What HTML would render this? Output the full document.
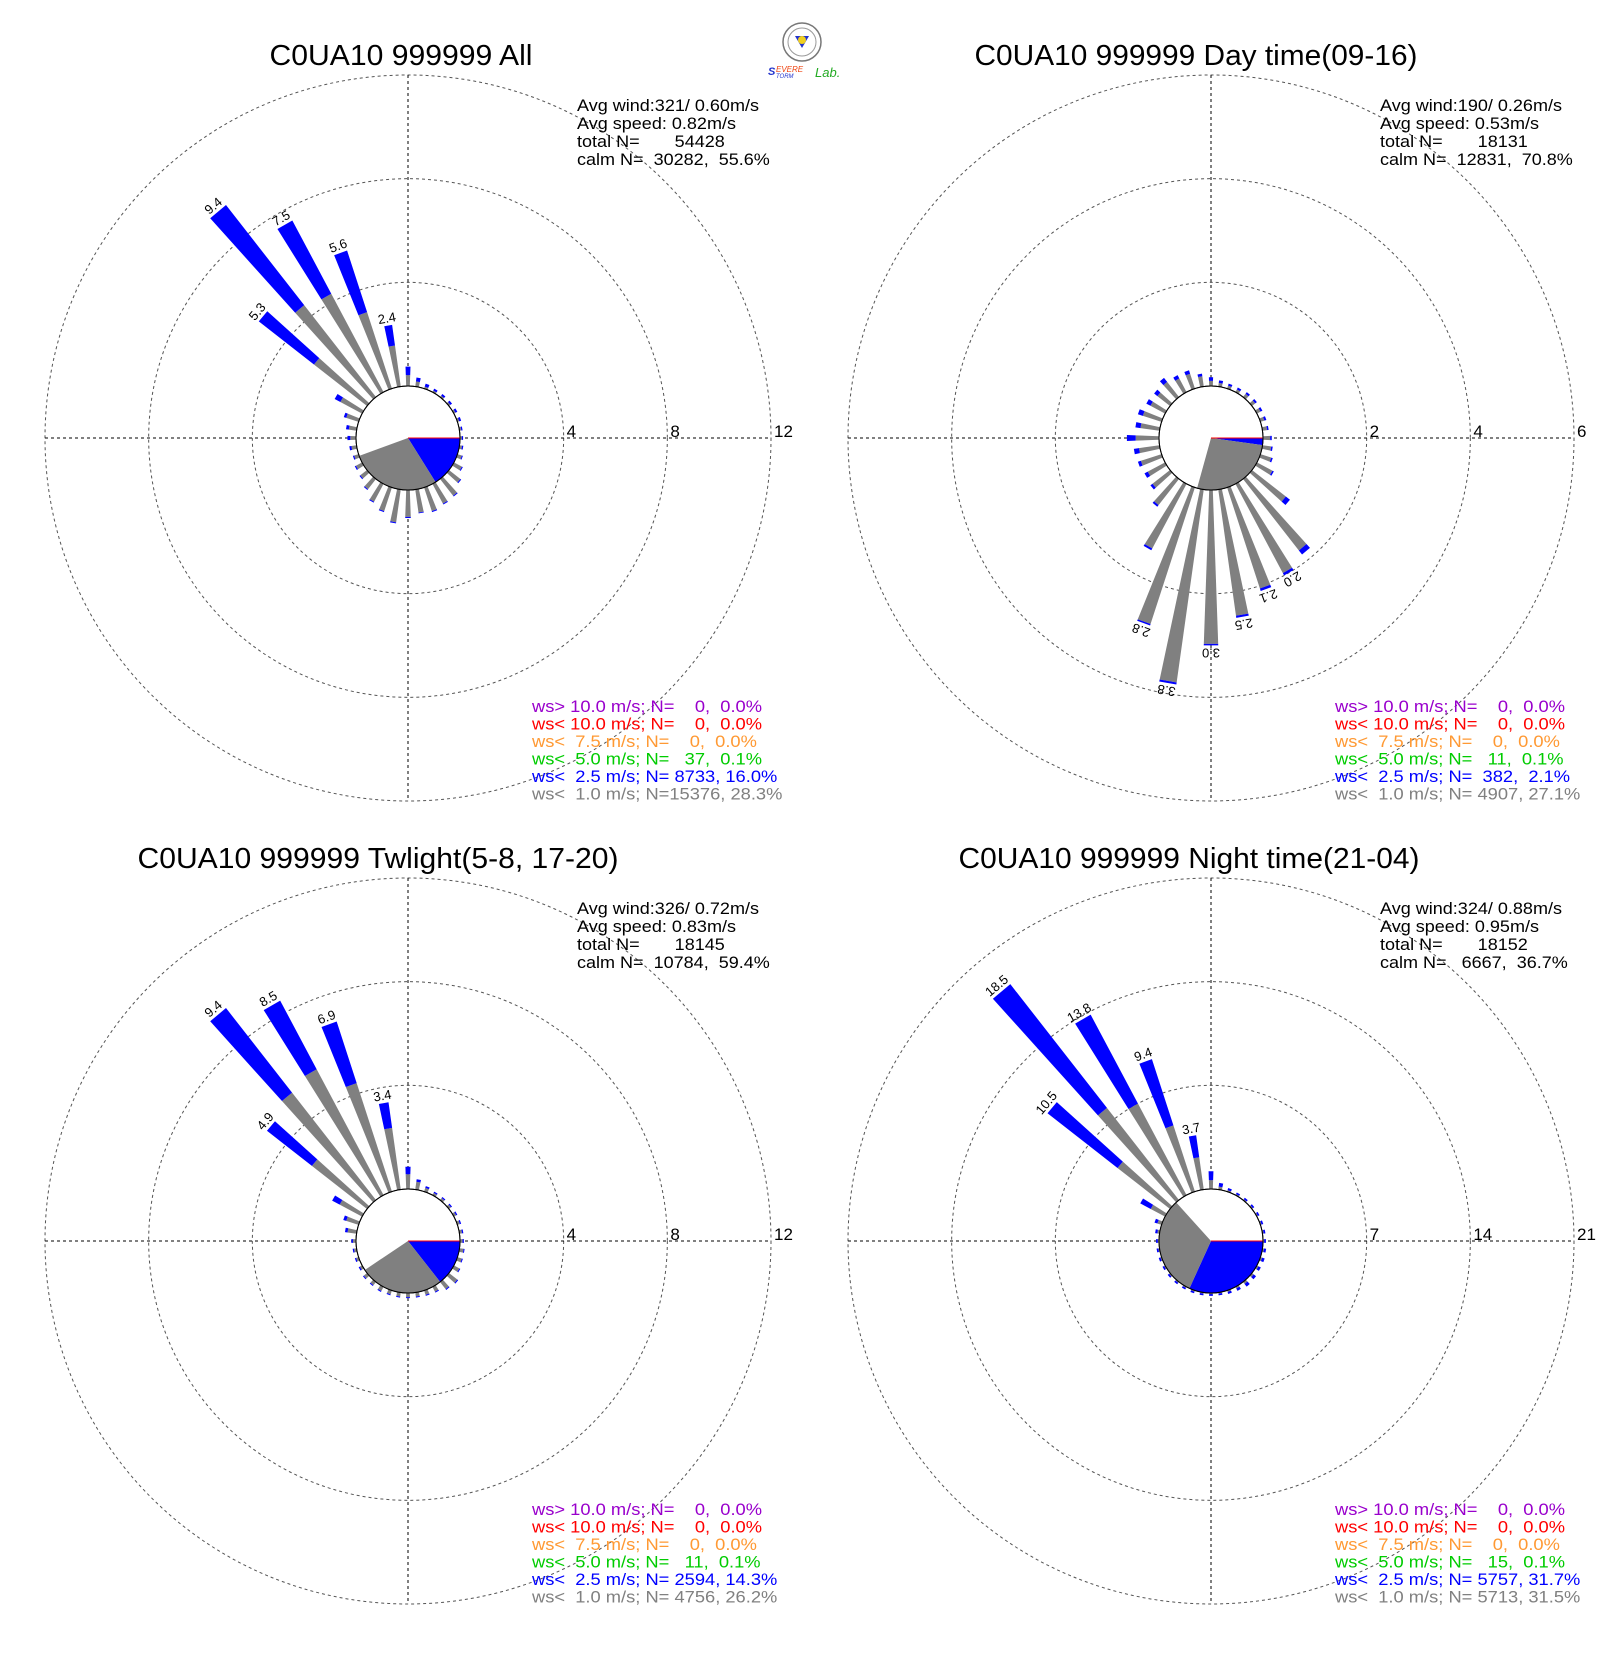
<!DOCTYPE html>
<html><head><meta charset="utf-8">
<style>
html,body{margin:0;padding:0;background:#fff;}
svg{display:block;}
text{font-family:"Liberation Sans",Arial,sans-serif;white-space:pre;}
</style></head>
<body>
<svg id="chart" width="1620" height="1660" viewBox="0 0 1620 1660" xmlns="http://www.w3.org/2000/svg" xml:space="preserve">
<g id="logo">
  <circle cx="802" cy="42" r="19" fill="#fff" stroke="#777" stroke-width="1.5"/>
  <circle cx="802" cy="42" r="14" fill="none" stroke="#999" stroke-width="1"/>
  <polygon points="795,36 809,36 802,48" fill="#2233cc"/>
  <circle cx="802" cy="40" r="4" fill="#f0d020"/>
  <text x="768" y="75" font-size="11" fill="#2233cc" font-style="italic" font-weight="bold">S</text>
  <text x="776" y="72" font-size="8" fill="#ee4411" font-style="italic">EVERE</text>
  <text x="776" y="78" font-size="6" fill="#2233cc" font-style="italic">TORM</text>
  <text x="815" y="77" font-size="13" fill="#22aa22" font-style="italic">Lab.</text>
</g>
</svg>
<script>
// ---- data ----
const directions = [0,10,20,30,40,50,60,70,80,90,100,110,120,130,140,150,160,170,180,190,200,210,220,230,240,250,260,270,280,290,300,310,320,330,340,350];

const allTotal = [0.75,0.35,0.2,0.15,0.15,0.15,0.15,0.15,0.12,0.12,0.15,0.22,0.39,0.6,0.86,0.9,1.0,0.93,1.08,1.32,1.0,0.82,0.54,0.37,0.32,0.23,0.28,0.33,0.41,0.6,1.2,5.3,9.4,7.5,5.6,2.4];
const allCalmWs = [0.42,0.2,0.08,0.07,0.07,0.07,0.07,0.07,0.07,0.07,0.1,0.18,0.35,0.56,0.82,0.86,0.96,0.9,1.04,1.28,0.96,0.78,0.5,0.33,0.27,0.18,0.2,0.22,0.3,0.5,0.95,2.6,4.5,4.3,3.1,1.6];

const dayTotal = [0.17,0.12,0.1,0.1,0.12,0.12,0.12,0.12,0.12,0.17,0.2,0.25,0.37,0.93,1.85,2.0,2.1,2.5,3.0,3.8,2.8,1.45,0.68,0.48,0.45,0.48,0.5,0.62,0.47,0.48,0.41,0.39,0.47,0.37,0.37,0.25];
const dayCalmWs = [0.1,0.07,0.06,0.06,0.08,0.08,0.08,0.08,0.09,0.14,0.17,0.22,0.34,0.83,1.75,1.95,2.05,2.46,2.97,3.76,2.77,1.41,0.64,0.43,0.38,0.42,0.4,0.45,0.37,0.38,0.32,0.31,0.37,0.3,0.3,0.2];

const twTotal = [0.86,0.4,0.22,0.15,0.15,0.15,0.15,0.15,0.15,0.15,0.2,0.22,0.28,0.45,0.39,0.25,0.22,0.2,0.2,0.2,0.2,0.22,0.2,0.2,0.15,0.15,0.15,0.18,0.45,0.62,1.31,4.9,9.4,8.5,6.9,3.4];
const twCalmWs = [0.57,0.3,0.15,0.1,0.1,0.1,0.1,0.1,0.1,0.1,0.16,0.18,0.24,0.41,0.35,0.21,0.18,0.16,0.16,0.16,0.16,0.18,0.16,0.16,0.1,0.1,0.1,0.12,0.35,0.5,0.98,2.7,5.26,5.5,4.4,2.4];

const nightTotal = [1.2,0.45,0.25,0.2,0.2,0.2,0.2,0.2,0.2,0.2,0.25,0.3,0.3,0.35,0.4,0.3,0.25,0.2,0.2,0.2,0.2,0.2,0.2,0.2,0.2,0.2,0.2,0.2,0.3,0.5,1.9,10.5,18.5,13.8,9.4,3.7];
const nightCalmWs = [0.6,0.2,0.1,0.08,0.08,0.08,0.08,0.08,0.08,0.08,0.1,0.12,0.12,0.15,0.17,0.12,0.1,0.08,0.08,0.08,0.08,0.08,0.08,0.08,0.08,0.08,0.08,0.08,0.15,0.3,1.1,4.5,7.9,7.0,4.7,2.2];

const ringTicks = [[4,8,12],[2,4,6],[4,8,12],[7,14,21]];
const labelMin = [2.0, 1.95, 3.0, 3.5];
const titles = ["C0UA10 999999 All","C0UA10 999999 Day time(09-16)","C0UA10 999999 Twlight(5-8, 17-20)","C0UA10 999999 Night time(21-04)"];
const avgWind = ["321/ 0.60m/s","190/ 0.26m/s","326/ 0.72m/s","324/ 0.88m/s"];
const avgSpeed = ["0.82m/s","0.53m/s","0.83m/s","0.95m/s"];
const totalN = ["54428","18131","18145","18152"];
const calmN = ["30282,  55.6%","12831,  70.8%","10784,  59.4%"," 6667,  36.7%"];
const bluePct = [16.0, 2.1, 14.3, 31.7];
const grayPct = [28.3, 27.1, 26.2, 31.5];
const greenPct = [0.1, 0.1, 0.1, 0.1];
const legendN = [
  ["    0,  0.0%","    0,  0.0%","    0,  0.0%","   37,  0.1%"," 8733, 16.0%","15376, 28.3%"],
  ["    0,  0.0%","    0,  0.0%","    0,  0.0%","   11,  0.1%","  382,  2.1%"," 4907, 27.1%"],
  ["    0,  0.0%","    0,  0.0%","    0,  0.0%","   11,  0.1%"," 2594, 14.3%"," 4756, 26.2%"],
  ["    0,  0.0%","    0,  0.0%","    0,  0.0%","   15,  0.1%"," 5757, 31.7%"," 5713, 31.5%"]
];
const legendPrefix = ["ws> 10.0 m/s; N=","ws< 10.0 m/s; N=","ws<  7.5 m/s; N=","ws<  5.0 m/s; N=","ws<  2.5 m/s; N=","ws<  1.0 m/s; N="];
const legendColors = ["#9900cc","#ff0000","#ff9933","#00cc00","#0000ff","#808080"];

const totals = [allTotal, dayTotal, twTotal, nightTotal];
const grays = [allCalmWs, dayCalmWs, twCalmWs, nightCalmWs];

// ---- layout ----
const NS = "http://www.w3.org/2000/svg";
const svg = document.getElementById('chart');
const centers = [[408,438],[1211,438],[408,1241],[1211,1241]];
const R0 = 52, RMAX = 363, HALF = 2.0;
const panelNames = ['all','day-time','twilight','night-time'];

function mk(tag, attrs, parent){
  const e = document.createElementNS(NS, tag);
  for (const k in attrs) e.setAttribute(k, attrs[k]);
  (parent||svg).appendChild(e);
  return e;
}
function pt(cx, cy, r, deg){ const a = deg*Math.PI/180; return [cx + r*Math.sin(a), cy - r*Math.cos(a)]; }
function wedge(cx, cy, r1, r2, deg){
  const a = pt(cx,cy,r1,deg-HALF), b = pt(cx,cy,r2,deg-HALF), c = pt(cx,cy,r2,deg+HALF), d = pt(cx,cy,r1,deg+HALF);
  return [a,b,c,d].map(p=>p[0].toFixed(2)+','+p[1].toFixed(2)).join(' ');
}
function pieSlice(cx, cy, r, a0, a1){
  const p0 = [cx + r*Math.cos(a0*Math.PI/180), cy + r*Math.sin(a0*Math.PI/180)];
  const p1 = [cx + r*Math.cos(a1*Math.PI/180), cy + r*Math.sin(a1*Math.PI/180)];
  const large = (a1-a0) > 180 ? 1 : 0;
  return `M${cx},${cy} L${p0[0]},${p0[1]} A${r},${r} 0 ${large} 1 ${p1[0]},${p1[1]} Z`;
}
function stretchBlock(list, targetFirst){
  const f = targetFirst / list[0].getComputedTextLength();
  list.forEach(t => {
    const w = t.getComputedTextLength();
    t.setAttribute('textLength', (w*f).toFixed(1));
    t.setAttribute('lengthAdjust', 'spacingAndGlyphs');
  });
}

for (let p = 0; p < 4; p++){
  const [cx, cy] = centers[p];
  const vmax = ringTicks[p][ringTicks[p].length-1];
  const scale = v => R0 + (RMAX - R0) * v / vmax;
  const g = mk('g', {});
  
  

  ringTicks[p].forEach(t => {
    const ring = mk('circle', {cx, cy, r: scale(t), fill:'none', stroke:'#555', 'stroke-width':1, 'stroke-dasharray':'3,3'}, g);
    
    
    const lab = mk('text', {x: cx + scale(t) + 3, y: cy - 1, 'font-size': 17, fill:'#000'}, g);
    lab.textContent = String(t);
    
    
  });
  const ax1 = mk('line', {x1: cx-RMAX, y1: cy, x2: cx+RMAX, y2: cy, stroke:'#000', 'stroke-width':1, 'stroke-dasharray':'3,3'}, g);
  
  
  const ax2 = mk('line', {x1: cx, y1: cy-RMAX, x2: cx, y2: cy+RMAX, stroke:'#000', 'stroke-width':1, 'stroke-dasharray':'3,3'}, g);
  
  

  directions.forEach((d, i) => {
    const tot = totals[p][i], gr = Math.min(grays[p][i], tot);
    const gBar = mk('polygon', {points: wedge(cx, cy, R0, scale(gr), d), fill:'#808080'}, g);
    
    
    const bBar = mk('polygon', {points: wedge(cx, cy, scale(gr), scale(tot), d), fill:'#0000ff'}, g);
    
    
    if (tot >= labelMin[p]){
      const tp = pt(cx, cy, scale(tot) + 3, d);
      const lt = mk('text', {x: 0, y: 0, 'font-size': 13, 'text-anchor':'middle', fill:'#000',
        transform: `translate(${tp[0].toFixed(1)},${tp[1].toFixed(1)}) rotate(${d})`}, g);
      lt.textContent = tot.toFixed(1);
      
      
    }
  });

  const cc = mk('circle', {cx, cy, r: R0, fill:'#fff', stroke:'#000', 'stroke-width':1}, g);
  
  
  let a = 0;
  const gA = greenPct[p]*3.6;
  const gs = mk('path', {d: pieSlice(cx, cy, R0, a, a+gA), fill:'#00cc00'}, g);
  
  
  a += gA;
  const bA = bluePct[p]*3.6;
  const bs = mk('path', {d: pieSlice(cx, cy, R0, a, a+bA), fill:'#0000ff'}, g);
  
  
  a += bA;
  const grA = grayPct[p]*3.6;
  const gys = mk('path', {d: pieSlice(cx, cy, R0, a, a+grA), fill:'#808080'}, g);
  
  
  const rl = mk('line', {x1: cx, y1: cy, x2: cx+R0, y2: cy, stroke:'#ff0000', 'stroke-width':1}, g);
  
  
  const cc2 = mk('circle', {cx, cy, r: R0, fill:'none', stroke:'#000', 'stroke-width':1}, g);
  
  

  const titleW = [263, 443, 481, 461][p];
  const titleX = [401, 1196, 378, 1189][p];
  const tt = mk('text', {x: titleX, y: cy - 373, 'font-size': 29, 'text-anchor':'middle', fill:'#000', textLength: titleW, lengthAdjust:'spacingAndGlyphs'}, g);
  tt.textContent = titles[p];
  
  

  const info = ["Avg wind:" + avgWind[p], "Avg speed: " + avgSpeed[p], "total N=       " + totalN[p], "calm N=  " + calmN[p]];
  const infoEls = [];
  info.forEach((s, k) => {
    const it = mk('text', {x: cx + 169, y: cy - 327 + k*18, 'font-size': 16.5, fill:'#000'}, g);
    it.textContent = s;
    
    
    infoEls.push(it);
  });
  stretchBlock(infoEls, 182);

  const legEls = [];
  legendPrefix.forEach((s, k) => {
    const lt = mk('text', {x: cx + 124, y: cy + 274 + k*17.5, 'font-size': 16.5, fill: legendColors[k]}, g);
    lt.textContent = s + legendN[p][k];
    
    
    legEls.push(lt);
  });
  stretchBlock(legEls, 230);
}
svg.appendChild(document.getElementById('logo'));
</script>
</body></html>
